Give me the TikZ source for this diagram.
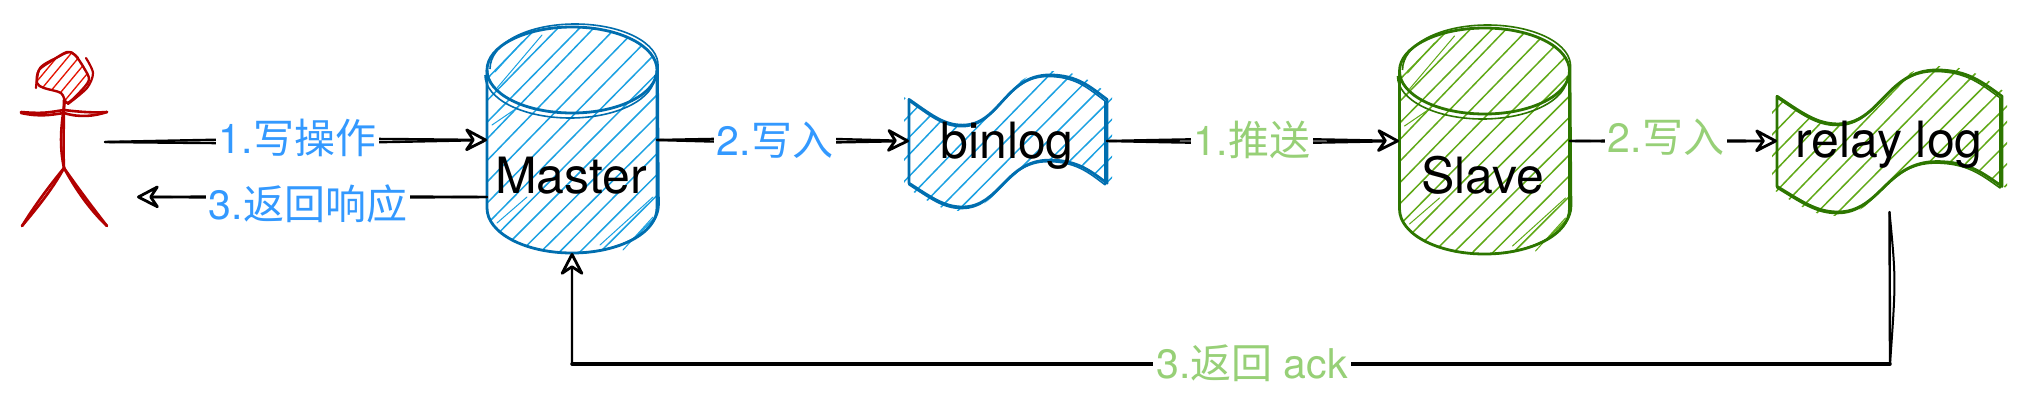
\documentclass[tikz,border=0pt]{standalone}
\usepackage{fontspec}
\setmainfont{TeX Gyre Heros}
\newfontfamily\cjk{Noto Sans CJK SC}
\usetikzlibrary{arrows.meta,calc}
\definecolor{bluestroke}{HTML}{006EAF}
\definecolor{bluehatch}{HTML}{1BA1E2}
\definecolor{greenstroke}{HTML}{2D7600}
\definecolor{greenhatch}{HTML}{60A917}
\definecolor{redstroke}{HTML}{B20000}
\definecolor{redhatch}{HTML}{E51400}
\definecolor{bluelabel}{HTML}{3399FF}
\definecolor{greenlabel}{HTML}{97D077}
\tikzset{
  box/.style={inner sep=0pt,outer sep=0pt,minimum width=#1},
  title/.style={anchor=base,inner sep=0pt,font=\fontsize{50}{56}\selectfont,text=black},
  lab/.style={anchor=base,fill=white,inner xsep=3pt,inner ysep=2pt,font=\fontsize{41}{47}\selectfont},
  wire/.style={draw=black,line width=2.4pt,line cap=round},
  tipped/.style={-{Stealth[round,length=26pt,width=27pt,inset=9pt,fill=white,line width=2.8pt]}},
  hatch/.style={line width=1.5pt,line cap=round},
  fine/.style={line width=1pt,line cap=round},
  outline/.style={line width=2.8pt,line join=round},
  outlinetwo/.style={line width=1.6pt,line join=round},
  limb/.style={draw=redstroke,line width=2.6pt,line cap=round,line join=round},
}
\newcommand\hatchlines[2]{%
  \foreach \s in {-320,-300,...,320}{
    \pgfmathsetmacro\jit{mod(\s,9)-4}
    \draw[hatch,draw=#2] ({\s-#1},{#1}) -- ({\s+#1+\jit},{-#1});
  }%
}
\newcommand\cylshape{(-85,-70) .. controls (-85,-94) and (-47,-113) .. (0,-113) .. controls (47,-113) and (85,-94) .. (85,-70) -- (85,68) .. controls (85,93) and (47,113) .. (0,113) .. controls (-47,113) and (-85,93) .. (-85,68) -- cycle}
\newcommand\cylfront{(-85,-70) .. controls (-85,-46) and (-47,-27) .. (0,-27) .. controls (47,-27) and (85,-46) .. (85,-70)}
\newcommand\cyl[3]{%
  \begin{scope}[shift={(#1)}]
    \begin{scope}
      \clip \cylshape;
      \hatchlines{160}{#3}
    \end{scope}
    \draw[fine,draw=#3] (-77,-68) -- (-50,-98) (-75,-52) -- (-30,-105) (-80,-15) -- (-55,-32)
      (-75,83) -- (-45,57) (51,110) -- (81,77) (28,105) -- (81,57);
    \draw[outline,draw=#2] \cylshape;
    \draw[outline,draw=#2] \cylfront;
    \begin{scope}[shift={(3,-3)}]
      \draw[outlinetwo,draw=#2] (-85,-68) .. controls (-85,-94) and (-47,-113) .. (0,-113) .. controls (47,-113) and (85,-94) .. (83,-70) -- (84,68) .. controls (84,93) and (47,115) .. (0,116);
    \end{scope}
    \begin{scope}[shift={(-2,5)}]
      \draw[outlinetwo,draw=#2] \cylfront;
    \end{scope}
  \end{scope}%
}
\newcommand\waveshape{(-1,-.63) .. controls (-.78,-.4) and (-.65,-.24) .. (-.46,-.24) .. controls (-.08,-.24) and (-.03,-1) .. (.42,-1) .. controls (.7,-1) and (.83,-.82) .. (1,-.63) -- (1,.64) .. controls (.83,.45) and (.7,.29) .. (.42,.29) .. controls (-.03,.29) and (-.08,1) .. (-.46,1) .. controls (-.65,1) and (-.78,.85) .. (-1,.64) -- cycle}
\newcommand\wave[5]{%
  \pgfmathsetmacro\wcx{#2+5}
  \pgfmathsetmacro\wcy{#3+4}
  \begin{scope}[shift={(#1)},x=\wcx pt,y=-\wcy pt]
    \clip \waveshape;
    \begin{scope}[x=1pt,y=-1pt]
      \hatchlines{120}{#5}
    \end{scope}
  \end{scope}
  \begin{scope}[shift={(#1)},x=#2pt,y=-#3pt]
    \draw[outline,draw=#4] \waveshape;
  \end{scope}
  \pgfmathsetmacro\wdx{#2-1}
  \begin{scope}[shift={(#1)},shift={(-1,1.5)},x=\wdx pt,y=-#3pt]
    \draw[outlinetwo,draw=#4] \waveshape;
  \end{scope}%
}
\newcommand\linkwire[3]{%
  \draw[wire,shorten >=14pt] (#1) .. controls ($(#1)!.5!(#2)+(0,#3)$) .. (#2);
  \draw[wire,tipped] (#1) .. controls ($(#1)!.5!(#2)-(0,#3)$) .. (#2);
}
\begin{document}
\begin{tikzpicture}[x=1pt,y=-1pt]
\useasboundingbox[fill=white] (0,0) rectangle (2026,402);
% invisible frames of the shapes
\node[box=84pt,minimum height=168pt] (person) at (63,142) {};
\node[box=170pt,minimum height=226pt] (master) at (572,140) {};
\node[box=198pt,minimum height=132pt] (binlog) at (1008,141) {};
\node[box=171pt,minimum height=228pt] (slave) at (1484.5,141) {};
\node[box=225pt,minimum height=142pt] (relay) at (1889.5,141) {};
\coordinate (backstart) at (487,197);
\coordinate (backend) at (137,197);
\coordinate (ackrun) at (1890,364);

% person
\begin{scope}
  \clip plot[smooth cycle] coordinates {(39,70) (53,60) (67,52) (75,55) (84,68) (89,80) (79,93) (67,103) (61,93) (44,88) (37,83)};
  \foreach \q in {0,11,...,140}{
    \draw[fine,line width=1.3pt,draw=redhatch] ({\q-20},110) -- ({\q+30},50);
  }
\end{scope}
\draw[limb,line width=2.4pt] plot[smooth cycle] coordinates {(39,70) (53,60) (67,52) (75,55) (84,68) (89,80) (79,93) (67,103) (61,93) (44,88) (37,83)};
\draw[limb,line width=2.2pt] plot[smooth] coordinates {(86,58) (93,73) (87,88) (68,104)};
\draw[limb,line width=2.2pt] plot[smooth] coordinates {(36,88) (40,68) (58,57) (70,52) (78,58)};
\draw[limb] (21,112) .. controls (45,114) and (50,112) .. (64,110) .. controls (80,112) and (95,113) .. (107,112);
\draw[limb] (21,113) .. controls (40,117) and (50,115) .. (64,113) .. controls (80,118) and (95,116) .. (107,112);
\draw[limb] (65,100) .. controls (61,125) and (59,145) .. (64,168);
\draw[limb] (64,100) .. controls (64,125) and (63,145) .. (64,168);
\draw[limb] (64,168) .. controls (50,185) and (35,205) .. (22,226);
\draw[limb] (64,168) .. controls (52,190) and (37,208) .. (22,226);
\draw[limb] (64,168) .. controls (78,188) and (93,208) .. (107,226);
\draw[limb] (64,168) .. controls (76,190) and (90,210) .. (107,226);

% shapes
\cyl{master}{bluestroke}{bluehatch}
\wave{binlog}{99}{66}{bluestroke}{bluehatch}
\cyl{slave}{greenstroke}{greenhatch}
\wave{relay}{112.5}{71}{greenstroke}{greenhatch}

% connectors
\linkwire{person.east}{master.west}{3}
\linkwire{backstart}{backend}{1}
\linkwire{master.east}{binlog.west}{3}
\linkwire{binlog.east}{slave.west}{3}
\linkwire{slave.east}{relay.west}{1}
\draw[wire,line width=2pt] (relay.south) .. controls (1896,280) .. (ackrun);
\draw[wire,tipped] (relay.south) -- (ackrun) -| (master.south);
\draw[wire,line width=3.4pt] (ackrun -| master.south) -- (ackrun);

% labels
\node[title] (mastertext) at (571,193) {Master};
\node[title] (binlogtext) at (1007,158) {binlog};
\node[title] (slavetext) at (1483,193) {Slave};
\node[title] (relaytext) at (1889,157) {relay log};
\node[lab,text=bluelabel] (l1) at (297.5,153) {1.{\cjk 写操作}};
\node[lab,text=bluelabel] (l2) at (308,219) {3.{\cjk 返回响应}};
\node[lab,text=bluelabel] (l3) at (775,155) {2.{\cjk 写入}};
\node[lab,text=greenlabel] (l4) at (1252,155) {1.{\cjk 推送}};
\node[lab,text=greenlabel] (l5) at (1666,152) {2.{\cjk 写入}};
\node[lab,text=greenlabel] (l6) at (1252,378) {3.{\cjk 返回} ack};
\end{tikzpicture}
\end{document}
